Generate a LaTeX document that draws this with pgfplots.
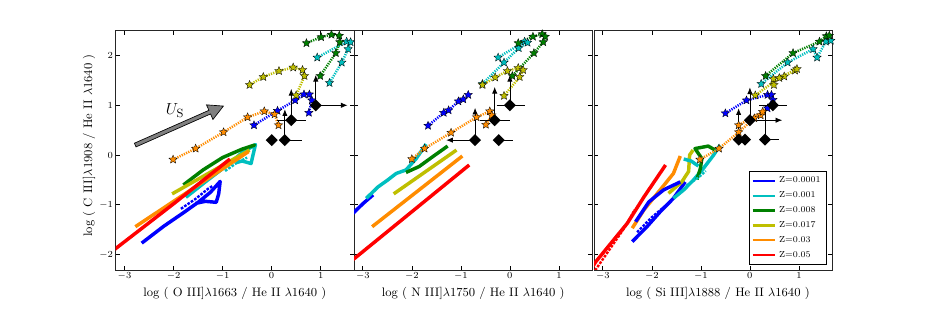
\documentclass[border=0pt]{standalone}
\usepackage{pgfplots}
\pgfplotsset{compat=1.18}
\usetikzlibrary{arrows.meta}

\definecolor{cZa}{RGB}{0,0,255}
\definecolor{cZb}{RGB}{0,191,191}
\definecolor{cZc}{RGB}{0,128,0}
\definecolor{cZd}{RGB}{191,191,0}
\definecolor{cZe}{RGB}{255,140,0}
\definecolor{cZf}{RGB}{255,0,0}

\pgfdeclareplotmark{fstar}{%
  \pgfpathmoveto{\pgfpointpolar{90}{\pgfplotmarksize}}%
  \pgfpathlineto{\pgfpointpolar{126}{0.45\pgfplotmarksize}}%
  \pgfpathlineto{\pgfpointpolar{162}{\pgfplotmarksize}}%
  \pgfpathlineto{\pgfpointpolar{198}{0.45\pgfplotmarksize}}%
  \pgfpathlineto{\pgfpointpolar{234}{\pgfplotmarksize}}%
  \pgfpathlineto{\pgfpointpolar{270}{0.45\pgfplotmarksize}}%
  \pgfpathlineto{\pgfpointpolar{306}{\pgfplotmarksize}}%
  \pgfpathlineto{\pgfpointpolar{342}{0.45\pgfplotmarksize}}%
  \pgfpathlineto{\pgfpointpolar{18}{\pgfplotmarksize}}%
  \pgfpathlineto{\pgfpointpolar{54}{0.45\pgfplotmarksize}}%
  \pgfpathclose
  \pgfusepathqfillstroke
}
\pgfdeclareplotmark{sqdiamond}{%
  \pgfpathmoveto{\pgfqpoint{0pt}{\pgfplotmarksize}}%
  \pgfpathlineto{\pgfqpoint{\pgfplotmarksize}{0pt}}%
  \pgfpathlineto{\pgfqpoint{0pt}{-\pgfplotmarksize}}%
  \pgfpathlineto{\pgfqpoint{-\pgfplotmarksize}{0pt}}%
  \pgfpathclose
  \pgfusepathqfill
}

\pgfplotsset{
  panel/.style={
    scale only axis, width=178.7pt, height=179.5pt,
    xmin=-3.18, xmax=1.68, ymin=-2.31, ymax=2.50,
    xtick={-3,-2,-1,0,1}, ytick={-2,-1,0,1,2},
    tick align=inside, tick pos=both, major tick length=3pt,
    minor tick num=0,
    tick style={black, line width=0.5pt},
    tick label style={font=\fontsize{7.5}{8}\selectfont},
    xticklabel style={yshift=1.5pt},
    yticklabel style={xshift=1.5pt},
    label style={font=\fontsize{9.2}{10}\selectfont},
    x label style={at={(axis description cs:0.5,-0.098)}, anchor=center},
    axis line style={black!85, line width=0.6pt},
    clip=true,
  },
  model/.style={color=#1, line width=2.6pt, no markers, line join=round},
  modeld/.style={color=#1, line width=1.8pt, dash pattern=on 2pt off 1pt, no markers},
  shock/.style={color=#1, line width=1.9pt, dash pattern=on 0.9pt off 0.9pt,
    mark=fstar, mark size=3.3pt,
    mark options={solid, fill=#1, draw=black, line width=0.25pt}},
  obs/.style={only marks, mark=sqdiamond, mark size=4.5pt, black},
  uarr/.style={black, line width=0.6pt, -{Latex[length=5pt,width=4pt]}},
  bar/.style={black, line width=0.6pt},
}

\begin{document}
\begin{tikzpicture}
\useasboundingbox (0,0) rectangle (694.5pt,231.75pt);

% ================= Panel 1: O III] =================
\begin{axis}[panel, at={(86.8pt,29.25pt)}, anchor=south west,
  xlabel={log ( O III]$\lambda$1663 / He II $\lambda$1640 )},
  ylabel={log ( C III]$\lambda$1908 / He II $\lambda$1640 )},
  y label style={at={(axis description cs:-0.112,0.52)}, anchor=center}]
% model grids
\addplot[model=cZa] coordinates {(-2.65,-1.77) (-2.2,-1.43) (-1.8,-1.16) (-1.5,-0.95) (-1.25,-0.75) (-1.05,-0.53) (-1.08,-0.78) (-1.13,-0.95) (-1.35,-0.93) (-1.55,-0.97)};
\addplot[modeld=cZa] coordinates {(-1.85,-1.08) (-1.55,-0.88) (-1.3,-0.68) (-1.2,-0.62)};
\addplot[model=cZb] coordinates {(-1.75,-0.85) (-1.3,-0.5) (-0.9,-0.2) (-0.6,0.05) (-0.33,0.21) (-0.38,0.0) (-0.42,-0.17) (-0.6,-0.12) (-0.72,-0.15)};
\addplot[modeld=cZb] coordinates {(-0.95,-0.32) (-0.7,-0.15) (-0.5,-0.05)};
\addplot[model=cZc] coordinates {(-1.8,-0.6) (-1.4,-0.3) (-1.0,-0.05) (-0.6,0.12) (-0.35,0.2) (-0.5,0.15)};
\addplot[model=cZd] coordinates {(-2.03,-0.78) (-0.45,0.1)};
\addplot[model=cZe] coordinates {(-2.78,-1.44) (-0.47,0.07)};
\addplot[model=cZf] coordinates {(-3.3,-1.97) (-2.0,-0.98) (-0.85,-0.08)};
% shock models
\addplot[shock=cZa] coordinates {(-0.36,0.60) (0.12,0.89) (0.48,1.10) (0.66,1.22) (0.77,1.22) (0.82,1.10) (0.76,0.85)};
\addplot[shock=cZb] coordinates {(0.93,1.96) (1.53,2.28) (1.61,2.27) (1.56,2.13) (1.43,1.86) (1.18,1.45)};
\addplot[shock=cZc] coordinates {(0.71,2.25) (1.01,2.37) (1.22,2.42) (1.38,2.40) (1.39,2.27) (1.31,2.05) (0.99,1.59)};
\addplot[shock=cZd] coordinates {(-0.45,1.41) (-0.17,1.57) (0.15,1.69) (0.44,1.76) (0.63,1.71) (0.67,1.59) (0.50,1.20)};
\addplot[shock=cZe] coordinates {(-2.01,-0.09) (-1.55,0.13) (-0.98,0.46) (-0.49,0.76) (-0.15,0.88) (0.06,0.82) (0.14,0.60)};
% observations
\addplot[bar] coordinates {(0.27,0.30) (0.61,0.30)};
\addplot[bar] coordinates {(0.10,0.70) (0.71,0.70)};
\addplot[uarr] coordinates {(0.27,0.30) (0.27,0.92)};
\addplot[uarr] coordinates {(0.40,0.70) (0.40,1.33)};
\addplot[uarr] coordinates {(0.90,1.00) (0.90,1.61)};
\addplot[uarr] coordinates {(0.90,1.00) (1.55,1.00)};
\addplot[obs] coordinates {(0.0,0.30) (0.27,0.30) (0.40,0.70) (0.90,1.00)};
% U_S arrow
\draw[fill=black!50, draw=black, line width=0.5pt]
  (axis cs:-2.766,0.164) -- (axis cs:-1.246,0.826) -- (axis cs:-1.197,0.715) --
  (axis cs:-0.984,0.984) -- (axis cs:-1.329,1.009) -- (axis cs:-1.279,0.899) --
  (axis cs:-2.799,0.238) -- cycle;
\node[font=\fontsize{13}{14}\selectfont] at (axis cs:-1.97,0.90) {$U_{\mathrm{S}}$};
\end{axis}

% ================= Panel 2: N III] =================
\begin{axis}[panel, at={(265.5pt,29.25pt)}, anchor=south west,
  yticklabels={},
  xlabel={log ( N III]$\lambda$1750 / He II $\lambda$1640 )}]
\addplot[model=cZa] coordinates {(-3.3,-1.27) (-3.2,-1.17) (-2.99,-0.97) (-2.79,-0.80)};
\addplot[model=cZb] coordinates {(-2.93,-0.87) (-2.69,-0.64) (-2.49,-0.50) (-2.32,-0.37) (-2.12,-0.30) (-1.91,-0.07) (-1.71,0.22)};
\addplot[model=cZc] coordinates {(-2.12,-0.35) (-1.85,-0.23) (-1.57,-0.03) (-1.27,0.18)};
\addplot[model=cZd] coordinates {(-2.37,-0.78) (-1.09,0.10)};
\addplot[model=cZe] coordinates {(-2.81,-1.44) (-0.97,-0.02)};
\addplot[model=cZf] coordinates {(-3.3,-2.17) (-3.16,-2.07) (-0.83,-0.20)};
% shock models
\addplot[shock=cZa] coordinates {(-1.67,0.59) (-1.35,0.85) (-1.25,0.90) (-1.05,1.08) (-0.95,1.12) (-0.85,1.21)};
\addplot[shock=cZb] coordinates {(-0.24,1.96) (0.30,2.28) (0.36,2.26) (0.18,2.15) (-0.12,1.86) (-0.56,1.43)};
\addplot[shock=cZc] coordinates {(0.17,2.25) (0.47,2.38) (0.66,2.43) (0.72,2.38) (0.68,2.27) (0.49,2.05) (0.05,1.59)};
\addplot[shock=cZd] coordinates {(-0.56,1.41) (-0.30,1.56) (-0.05,1.69) (0.17,1.75) (0.27,1.71) (0.20,1.57) (-0.12,1.19)};
\addplot[shock=cZe] coordinates {(-2.0,-0.08) (-1.74,0.13) (-1.20,0.45) (-0.68,0.76) (-0.41,0.88) (-0.37,0.80) (-0.49,0.61)};
% observations
\addplot[bar] coordinates {(-0.23,0.30) (0.07,0.30)};
\addplot[bar] coordinates {(-0.60,0.70) (0.0,0.70)};
\addplot[bar] coordinates {(-0.27,1.00) (0.30,1.00)};
\addplot[uarr] coordinates {(-0.71,0.30) (-1.30,0.30)};
\addplot[uarr] coordinates {(-0.71,0.30) (-0.71,0.95)};
\addplot[uarr] coordinates {(-0.31,0.70) (-0.31,1.37)};
\addplot[uarr] coordinates {(0.0,1.00) (0.0,1.61)};
\addplot[obs] coordinates {(-0.71,0.30) (-0.23,0.30) (-0.31,0.70) (0.0,1.00)};
\end{axis}

% ================= Panel 3: Si III] =================
\begin{axis}[panel, at={(445.5pt,29.25pt)}, anchor=south west,
  yticklabels={},
  xlabel={log ( Si III]$\lambda$1888 / He II $\lambda$1640 )},
  x label style={at={(axis description cs:0.52,-0.098)}},
  legend cell align=left,
  legend image post style={line width=1.6pt, solid},
  legend style={at={(0.975,0.021)}, anchor=south east, draw=black, line width=0.4pt,
    font=\fontsize{6.6}{7.5}\selectfont, row sep=1.2pt, inner sep=2pt, fill=white}]
% main model curves (these carry the legend)
\addplot[model=cZa] coordinates {(-2.40,-1.74) (-2.10,-1.44) (-1.83,-1.14) (-1.56,-0.87) (-1.32,-0.54)};
\addlegendentry{Z=0.0001}
\addplot[model=cZb] coordinates {(-1.56,-0.87) (-1.35,-0.70) (-1.15,-0.50) (-0.95,-0.27) (-0.74,0.0) (-0.61,0.20)};
\addlegendentry{Z=0.001}
\addplot[model=cZc] coordinates {(-1.08,-0.49) (-1.01,-0.27) (-0.98,-0.07) (-1.12,0.13) (-0.85,0.18) (-0.71,0.10)};
\addlegendentry{Z=0.008}
\addplot[model=cZd] coordinates {(-1.66,-0.77) (-1.39,-0.54) (-1.25,-0.33) (-1.23,0.0) (-1.16,0.10)};
\addlegendentry{Z=0.017}
\addplot[model=cZe] coordinates {(-2.40,-1.47) (-2.16,-1.10) (-1.83,-0.70) (-1.56,-0.37) (-1.42,-0.02)};
\addlegendentry{Z=0.03}
\addplot[model=cZf] coordinates {(-3.3,-2.38) (-3.14,-2.14) (-2.50,-1.37) (-2.16,-0.84) (-1.72,-0.20)};
\addlegendentry{Z=0.05}
\addplot[model=cZa, forget plot] coordinates {(-2.33,-1.34) (-2.06,-0.94) (-1.76,-0.70) (-1.42,-0.54)};
\addplot[modeld=cZa, forget plot] coordinates {(-2.30,-1.55) (-2.0,-1.25) (-1.70,-1.00)};
\addplot[model=cZb, forget plot] coordinates {(-1.35,-0.08) (-1.2,-0.12) (-1.05,-0.22)};
\addplot[modeld=cZb, forget plot] coordinates {(-1.3,-0.62) (-1.05,-0.45) (-0.9,-0.32)};
\addplot[modeld=cZf, forget plot] coordinates {(-3.25,-2.45) (-2.85,-1.88) (-2.55,-1.45) (-2.35,-1.1)};
% shock models
\addplot[shock=cZa, forget plot] coordinates {(-0.50,0.84) (-0.07,1.10) (0.36,1.21) (0.44,1.21) (0.47,1.11) (0.36,0.94)};
\addplot[shock=cZb, forget plot] coordinates {(0.23,1.43) (0.77,1.86) (1.29,2.13) (1.37,1.96) (1.55,2.28) (1.65,2.30)};
\addplot[shock=cZc, forget plot] coordinates {(0.32,1.59) (0.88,2.05) (1.42,2.28) (1.56,2.39) (1.62,2.40)};
\addplot[shock=cZd, forget plot] coordinates {(0.49,1.41) (0.48,1.53) (0.70,1.58) (0.92,1.70) (0.96,1.73) (0.60,1.55) (0.11,1.20)};
\addplot[shock=cZe, forget plot] coordinates {(-1.02,-0.09) (-0.63,0.13) (-0.23,0.46) (0.09,0.74) (0.22,0.80) (0.26,0.87) (-0.23,0.60)};
% observations
\addplot[bar, forget plot] coordinates {(0.31,0.31) (0.60,0.31)};
\addplot[bar, forget plot] coordinates {(0.31,0.31) (0.31,1.00)};
\addplot[bar, forget plot] coordinates {(0.19,1.00) (0.76,1.00)};
\addplot[uarr, forget plot] coordinates {(-0.23,0.31) (-0.23,0.94)};
\addplot[uarr, forget plot] coordinates {(0.0,0.70) (0.0,1.36)};
\addplot[uarr, forget plot] coordinates {(0.0,0.70) (0.66,0.70)};
\addplot[obs, forget plot] coordinates {(-0.23,0.31) (-0.10,0.31) (0.31,0.31) (0.0,0.70) (0.47,1.00)};
\end{axis}
\end{tikzpicture}
\end{document}
